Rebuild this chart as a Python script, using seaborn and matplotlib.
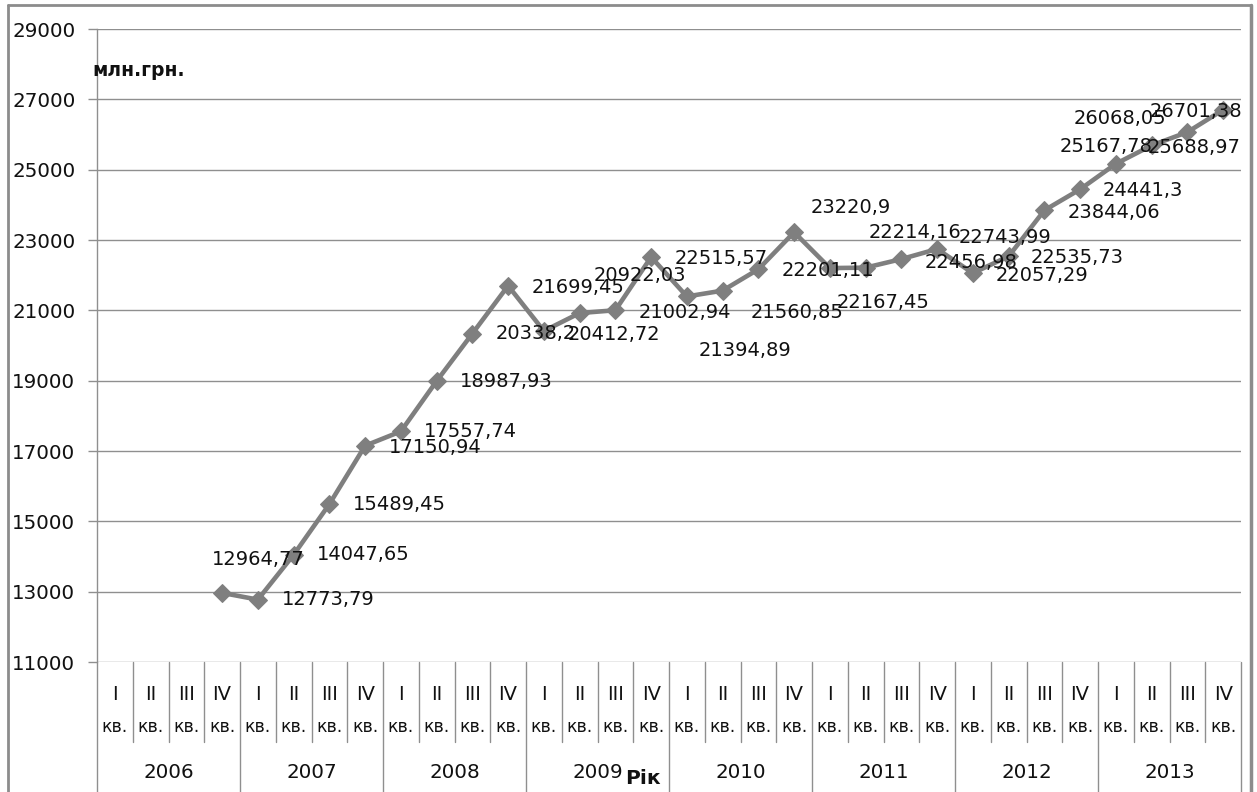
import matplotlib
matplotlib.use("Agg")
import matplotlib.pyplot as plt
import matplotlib.transforms as mtransforms
from matplotlib.lines import Line2D
import seaborn as sns
import pandas as pd

# Quarterly series, 2006 Q1 .. 2013 Q4 (no data before 2006 Q4)
years = ["2006", "2007", "2008", "2009", "2010", "2011", "2012", "2013"]
quarters = ["I", "II", "III", "IV"]
start_index = 3
values = [12964.77, 12773.79, 14047.65, 15489.45, 17150.94, 17557.74, 18987.93,
          20338.2, 21699.45, 20412.72, 20922.03, 21002.94, 22515.57, 21394.89,
          21560.85, 22167.45, 23220.9, 22201.11, 22214.16, 22456.98, 22743.99,
          22057.29, 22535.73, 23844.06, 24441.3, 25167.78, 25688.97, 26068.05,
          26701.38]
y_ticks = [11000, 13000, 15000, 17000, 19000, 21000, 23000, 25000, 27000, 29000]
unit_label = "млн.грн."
axis_label = "Рік"
quarter_suffix = "кв."

# label placement: offset of each value label's centre from its marker, in pixels
label_offsets = [(36, 33), (70, 0), (70, 0), (70, 0), (70, -2), (70, 0), (70, 0),
                 (63, 0), (70, -2), (70, -4), (60, 38), (70, -2), (70, -1), (58, -54),
                 (74, -22), (125, -33), (57, 25), (-2, -2), (49, 35), (70, -3), (68, 12),
                 (69, -2), (69, -1), (70, -2), (63, -1), (-10, 17), (42, -2), (-67, 14),
                 (-27, -2)]


def fmt_value(v):
    s = f"{v:.2f}".rstrip("0").rstrip(".")
    return s.replace(".", ",")


sns.set_style("white")
plt.rcParams["font.family"] = ["DejaVu Sans"]

W, H = 1257, 792
fig = plt.figure(figsize=(W / 100, H / 100), dpi=100)
L, R, T, B = 97, 1241, 29, 662
ax = fig.add_axes([L / W, (H - B) / H, (R - L) / W, (B - T) / H])

grey = "#7f7f7f"
grid_grey = "#8f8f8f"
text_col = "#111111"

n_slots = len(years) * len(quarters)
df = pd.DataFrame({"slot": list(range(start_index, start_index + len(values))),
                   "value": values})
sns.lineplot(data=df, x="slot", y="value", ax=ax, color=grey, linewidth=3.3,
             marker="D", markersize=9.5, markeredgecolor=grey, markerfacecolor=grey,
             zorder=3)

for (xv, yv), (dx, dy) in zip(zip(df["slot"], df["value"]), label_offsets):
    ax.annotate(fmt_value(yv), (xv, yv), xytext=(dx, dy), textcoords="offset pixels",
                ha="center", va="center", fontsize=14, color=text_col, zorder=4)

ax.set_xlim(-0.5, n_slots - 0.5)
ax.set_ylim(y_ticks[0], y_ticks[-1])
ax.set_yticks(y_ticks)
ax.set_yticklabels([str(t) for t in y_ticks], fontsize=14.3, color=text_col)
ax.set_xticks([])
ax.set_xlabel("")
ax.set_ylabel("")
ax.tick_params(axis="y", length=6.5, width=1, color=grid_grey, pad=9, left=True)
ax.grid(axis="y", color=grid_grey, linewidth=1)
ax.grid(axis="x", visible=False)
for side in ["top", "right", "bottom"]:
    ax.spines[side].set_visible(False)
ax.spines["left"].set_color(grid_grey)
ax.spines["left"].set_linewidth(1)

# two-level category axis below the plot
trans = mtransforms.blended_transform_factory(ax.transData, ax.transAxes)
h_px = B - T


def ay(py):
    return (B - py) / h_px


for k in range(n_slots + 1):
    xb = k - 0.5
    bottom = ay(795) if k % 4 == 0 else ay(742)
    ax.add_line(Line2D([xb, xb], [0, bottom], transform=trans, color=grid_grey,
                       linewidth=1, clip_on=False))
for k in range(n_slots):
    q = quarters[k % 4]
    ax.text(k, ay(695), q, transform=trans, ha="center", va="center",
            fontsize=14, color=text_col)
    ax.text(k, ay(727), quarter_suffix, transform=trans, ha="center", va="center",
            fontsize=12.5, color=text_col)
for i, yr in enumerate(years):
    ax.text(i * 4 + 1.5, ay(773), yr, transform=trans, ha="center", va="center",
            fontsize=14.3, color=text_col)

ax.text((643 - L) / (R - L), ay(778), axis_label, transform=ax.transAxes,
        ha="center", va="center", fontsize=14.5, fontweight="bold", color=text_col)
fig.text(92 / W, 1 - 71 / H, unit_label, ha="left", va="center",
         fontsize=13.5, fontweight="bold", color=text_col)

# chart frame
frame_col = "#8c8c8c"
fig.add_artist(Line2D([8 / W, 8 / W], [0, 1 - 5 / H], transform=fig.transFigure,
                      color=frame_col, linewidth=2))
fig.add_artist(Line2D([8 / W, 1251 / W], [1 - 5 / H, 1 - 5 / H], transform=fig.transFigure,
                      color=frame_col, linewidth=2))
fig.add_artist(Line2D([1251 / W, 1251 / W], [0, 1 - 5 / H], transform=fig.transFigure,
                      color=frame_col, linewidth=2.5))

fig.savefig("out.png", dpi=100)
